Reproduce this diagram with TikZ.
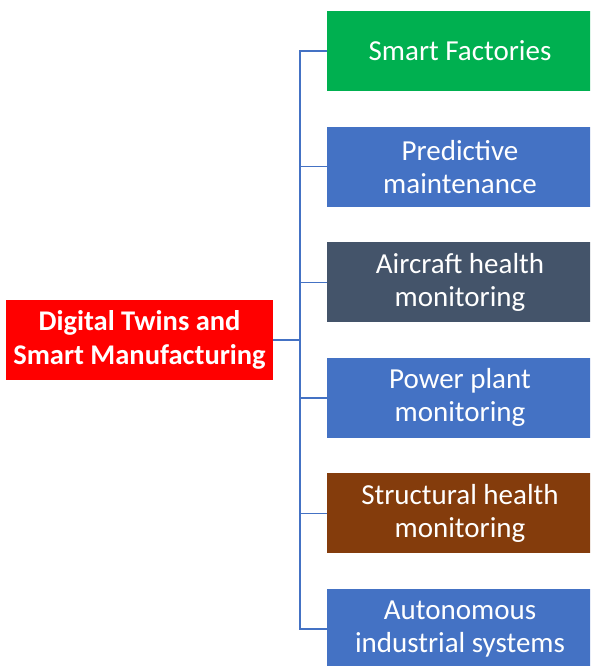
\documentclass[tikz,border=0pt]{standalone}
\usepackage{fontspec}
\setmainfont{Carlito}
\definecolor{cgreen}{HTML}{00B050}
\definecolor{cblue}{HTML}{4472C4}
\definecolor{cslate}{HTML}{44546A}
\definecolor{cbrown}{HTML}{843C0C}
\definecolor{cred}{HTML}{FF0000}
\begin{document}
\begin{tikzpicture}[x=1pt,y=-1pt,
  leaf/.style={minimum width=266pt,minimum height=80pt,inner sep=0pt,
    text=white,align=center,font=\fontsize{29}{33}\selectfont},
  rootbox/.style={fill=cred,minimum width=267pt,minimum height=80pt,inner sep=0pt,
    text=white,align=center,font=\bfseries\fontsize{28.5}{34}\selectfont},
  conn/.style={draw=cblue,line width=1.4pt}]
\useasboundingbox (0,0) rectangle (590,666);
\clip (0,0) rectangle (590,666);
\fill[white] (0,0) rectangle (590,666);

\node[rootbox] (root) at (139.5,340) {Digital Twins and\\Smart Manufacturing};

\node[leaf,fill=cgreen] (b1) at (460,51)    {Smart Factories};
\node[leaf,fill=cblue]  (b2) at (460,166.6) {Predictive\\maintenance};
\node[leaf,fill=cslate] (b3) at (460,282.2) {Aircraft health\\monitoring};
\node[leaf,fill=cblue]  (b4) at (460,397.8) {Power plant\\monitoring};
\node[leaf,fill=cbrown] (b5) at (460,513.4) {Structural health\\monitoring};
\node[leaf,fill=cblue]  (b6) at (460,629)   {Autonomous\\industrial systems};

\coordinate (trunk) at (300,340);
\draw[conn] (root.east) -- (trunk);
\foreach \b in {b1,b2,b3,b4,b5,b6}
  \draw[conn] (trunk) |- (\b.west);
\end{tikzpicture}
\end{document}
